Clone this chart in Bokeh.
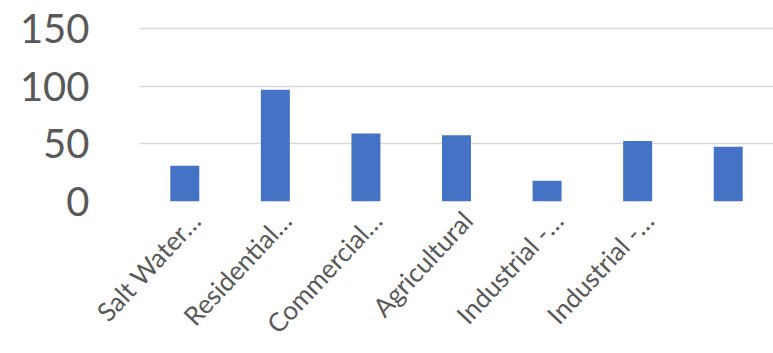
import math
from bokeh.plotting import figure
from bokeh.models import ColumnDataSource, FixedTicker, Range1d
from bokeh.embed import file_html
from bokeh.resources import INLINE

categories = ["Salt Water…", "Residential…", "Commercial…", "Agricultural",
              "Industrial -…", "Industrial -…", ""]
values = [31, 97, 59, 57.5, 18, 52.5, 47.5]
y_ticks = [0, 50, 100, 150]

xs = list(range(len(categories)))
src = ColumnDataSource(data=dict(x=xs, top=values))

# label anchor nudged slightly right of the category centre (as in the original)
label_shift = 0.12
label_ticks = [i + label_shift for i in xs]

p = figure(width=773, height=353, output_backend="svg", toolbar_location=None,
           x_range=Range1d(-0.5, len(categories) - 0.5), y_range=Range1d(0, 157),
           min_border_left=139, min_border_right=0, min_border_top=20,
           min_border_bottom=151)
p.outline_line_color = None
p.background_fill_color = "white"
p.border_fill_color = "white"

p.vbar(x="x", top="top", width=0.32, source=src, fill_color="#4472C4", line_color=None)

font = "Lato"
grey = "#595959"

p.yaxis.ticker = FixedTicker(ticks=y_ticks)
p.yaxis.axis_line_color = None
p.yaxis.major_tick_line_color = None
p.yaxis.minor_tick_line_color = None
p.yaxis.major_label_text_font = font
p.yaxis.major_label_text_font_size = "40px"
p.yaxis.major_label_text_color = grey
p.yaxis.major_label_standoff = 44

p.xaxis.ticker = FixedTicker(ticks=label_ticks)
p.xaxis.major_label_overrides = {t: c for t, c in zip(label_ticks, categories)}
p.xaxis.major_label_orientation = math.radians(47)
p.xaxis.axis_line_color = None
p.xaxis.major_tick_line_color = None
p.xaxis.minor_tick_line_color = None
p.xaxis.major_label_text_font = font
p.xaxis.major_label_text_font_size = "26px"
p.xaxis.major_label_text_color = grey
p.xaxis.major_label_standoff = 8

p.xgrid.grid_line_color = None
p.ygrid.ticker = FixedTicker(ticks=y_ticks)
p.ygrid.grid_line_color = "#d9d9d9"
p.ygrid.grid_line_width = 1.5

open("out.html", "w").write(file_html(p, INLINE))
